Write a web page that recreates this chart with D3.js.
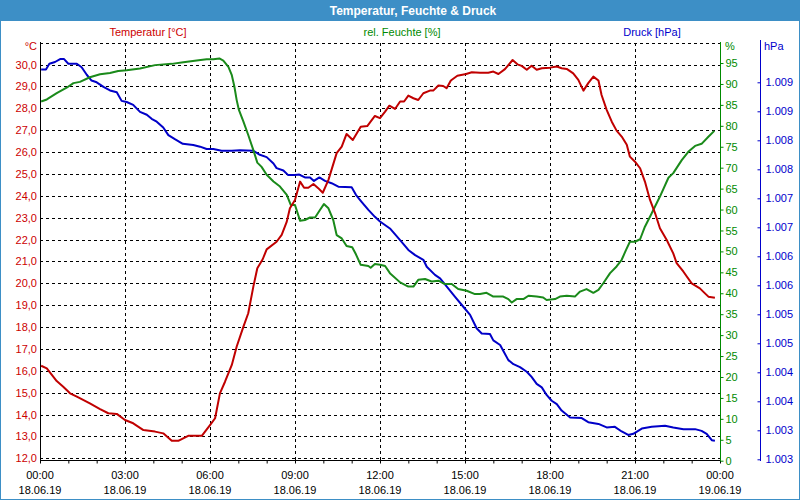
<!DOCTYPE html>
<html><head><meta charset="utf-8">
<script src="https://cdn.jsdelivr.net/npm/d3@7"></script>
<style>body{margin:0;background:#fff}svg{display:block;font-family:"Liberation Sans",Arial,sans-serif}</style>
</head><body><svg id="c" width="800" height="500"></svg>
<script>
const title = "Temperatur, Feuchte & Druck";
const seriesNames = ["Temperatur [°C]", "rel. Feuchte [%]", "Druck [hPa]"];
const timeLabels = ["00:00","03:00","06:00","09:00","12:00","15:00","18:00","21:00","00:00"];
const dateLabels = ["18.06.19","18.06.19","18.06.19","18.06.19","18.06.19","18.06.19","18.06.19","18.06.19","19.06.19"];
const tempTicks = [12,13,14,15,16,17,18,19,20,21,22,23,24,25,26,27,28,29,30,31];
const humTicks = [0,5,10,15,20,25,30,35,40,45,50,55,60,65,70,75,80,85,90,95];
const pressTicks = [1002.75,1003.25,1003.75,1004.25,1004.75,1005.25,1005.75,1006.25,1006.75,1007.25,1007.75,1008.25,1008.75,1009.25];

// hours since 18.06.19 00:00
const tempHours = [0.04,0.24,0.59,0.82,1.06,1.30,1.76,2.12,2.41,2.71,3.0,3.29,3.65,4.06,4.35,4.65,4.88,5.23,5.71,6.0,6.18,6.35,6.53,6.77,6.94,7.18,7.35,7.53,7.67,7.86,8.0,8.35,8.53,8.71,8.82,9.0,9.18,9.32,9.47,9.65,9.82,9.98,10.18,10.47,10.65,10.82,11.04,11.32,11.55,11.82,12.0,12.18,12.33,12.53,12.71,12.85,13.0,13.18,13.35,13.53,13.76,13.88,14.06,14.23,14.35,14.5,14.73,15.04,15.24,15.53,15.82,16.0,16.18,16.41,16.53,16.68,16.85,17.0,17.18,17.35,17.53,17.71,18.0,18.24,18.41,18.59,18.82,19.0,19.18,19.35,19.53,19.71,19.82,20.0,20.18,20.35,20.53,20.71,20.82,21.0,21.18,21.35,21.53,21.71,21.88,22.12,22.35,22.47,22.71,23.0,23.29,23.47,23.59,23.82];
const tempValues = [16.23,16.11,15.53,15.27,14.97,14.82,14.51,14.25,14.06,14.03,13.75,13.60,13.29,13.22,13.14,12.80,12.80,13.03,13.03,13.52,13.83,14.97,15.50,16.27,17.10,18.02,18.63,19.85,20.69,21.10,21.55,21.90,22.21,22.82,23.43,23.81,24.65,24.37,24.37,24.54,24.35,24.14,24.73,25.95,26.25,26.83,26.55,27.16,27.19,27.65,27.55,27.85,28.12,27.97,28.31,28.31,28.58,28.46,28.38,28.69,28.81,28.81,29.04,29.02,28.92,29.27,29.49,29.57,29.65,29.63,29.63,29.68,29.57,29.79,29.98,30.21,30.01,29.94,29.76,29.95,29.76,29.83,29.86,29.91,29.83,29.80,29.60,29.30,28.81,29.15,29.45,29.27,28.61,27.93,27.39,26.98,26.71,26.33,25.79,25.56,25.26,24.65,23.81,23.20,22.52,21.98,21.37,20.92,20.53,20.00,19.77,19.54,19.39,19.34];

const humHours = [0.04,0.24,0.59,0.94,1.18,1.41,1.76,2.12,2.47,2.76,3.06,3.53,4.06,4.65,5.06,5.53,5.88,6.12,6.33,6.47,6.65,6.77,6.86,6.94,7.02,7.18,7.35,7.53,7.67,7.82,8.0,8.24,8.47,8.71,8.85,9.0,9.18,9.35,9.53,9.71,9.88,10.02,10.18,10.35,10.47,10.65,10.82,11.02,11.15,11.32,11.59,11.67,11.82,12.0,12.18,12.35,12.71,13.0,13.18,13.35,13.59,13.82,14.06,14.29,14.53,14.76,15.06,15.35,15.53,15.76,16.0,16.35,16.53,16.65,16.82,17.06,17.24,17.53,17.76,17.88,18.18,18.35,18.59,18.88,19.06,19.29,19.53,19.71,19.88,20.12,20.35,20.53,20.68,20.82,21.0,21.18,21.35,21.59,21.88,22.18,22.35,22.65,22.88,23.12,23.35,23.59,23.80];
const humValues = [85.8,86.3,87.8,89.1,90.2,90.5,91.6,92.3,92.6,93.1,93.3,93.7,94.5,94.8,95.2,95.6,95.9,95.9,96.1,95.6,94.1,92.1,89.4,86.2,83.8,81.0,77.8,74.2,71.2,70.2,68.3,66.7,65.5,63.5,61.1,61.1,57.3,57.5,58.1,58.1,59.9,61.3,60.3,57.5,53.9,53.1,51.3,51.0,49.3,46.8,46.5,46.1,47.0,46.8,46.5,44.8,42.6,41.6,41.6,43.2,43.4,42.8,43.0,42.2,42.2,41.0,40.6,39.8,39.8,40.1,39.2,39.2,38.6,37.8,38.6,38.6,39.4,39.2,39.0,38.4,38.6,39.2,39.4,39.2,40.4,41.0,40.1,40.8,42.4,44.8,46.4,48.0,50.3,52.3,52.3,52.9,55.9,59.1,63.1,67.6,68.7,71.8,73.8,75.2,75.7,77.4,78.8];

const pressHours = [0.04,0.21,0.33,0.53,0.71,0.85,1.0,1.3,1.47,1.65,1.82,2.0,2.24,2.47,2.71,2.88,3.06,3.29,3.53,3.77,3.94,4.12,4.35,4.53,4.76,5.04,5.41,5.65,5.88,6.12,6.41,6.77,7.06,7.53,7.76,8.0,8.24,8.35,8.59,8.76,9.0,9.15,9.35,9.53,9.67,9.86,10.06,10.29,10.53,11.0,11.15,11.35,11.59,11.82,12.0,12.35,12.71,13.0,13.24,13.53,13.65,13.94,14.12,14.35,14.65,14.94,15.18,15.41,15.59,15.88,16.0,16.24,16.35,16.53,16.71,16.94,17.18,17.35,17.53,17.71,17.88,18.06,18.24,18.41,18.71,19.12,19.35,19.71,20.0,20.29,20.53,20.76,20.94,21.24,21.59,22.06,22.35,22.71,23.12,23.35,23.53,23.71,23.82];
const pressValues = [1009.47,1009.47,1009.57,1009.60,1009.65,1009.65,1009.57,1009.57,1009.51,1009.38,1009.28,1009.25,1009.17,1009.11,1009.08,1008.93,1008.91,1008.86,1008.74,1008.69,1008.62,1008.57,1008.47,1008.34,1008.27,1008.19,1008.17,1008.14,1008.10,1008.10,1008.07,1008.07,1008.08,1008.07,1008.00,1007.96,1007.85,1007.77,1007.73,1007.65,1007.65,1007.66,1007.61,1007.61,1007.55,1007.61,1007.55,1007.51,1007.45,1007.44,1007.31,1007.19,1007.05,1006.93,1006.85,1006.73,1006.53,1006.36,1006.27,1006.19,1006.07,1005.93,1005.87,1005.73,1005.55,1005.38,1005.24,1005.01,1004.92,1004.91,1004.80,1004.72,1004.62,1004.46,1004.39,1004.34,1004.26,1004.17,1004.05,1003.99,1003.86,1003.76,1003.70,1003.59,1003.47,1003.46,1003.39,1003.36,1003.30,1003.31,1003.23,1003.17,1003.19,1003.28,1003.31,1003.33,1003.30,1003.27,1003.27,1003.24,1003.19,1003.08,1003.07];

const RED = "#cc0000", GREEN = "#008a00", BLUE = "#0000cc";
const LRED = "#c00000", LGREEN = "#1a8a1a", LBLUE = "#0000c8";
const svg = d3.select("#c");
const de = d3.formatLocale({decimal: ",", thousands: ".", grouping: [3], currency: ["", "€"]});
const fT = de.format(".1f"), fP = de.format(",.0f");

const x = d3.scaleLinear().domain([0, 24]).range([40, 720]);
const yT = d3.scaleLinear().domain([12, 31]).range([458.3, 42.7]);
const yH = d3.scaleLinear().domain([0, 100]).range([460.7, 42.1]);
const yP = d3.scaleLinear().domain([1002.75, 1009.25]).range([459.3, 82.3]);
const px = v => Math.round(v) + 0.5;

// frame + title bar
svg.append("rect").attr("x", 0.5).attr("y", 0.5).attr("width", 799).attr("height", 499)
  .attr("fill", "#fff").attr("stroke", "#3d8fc6").attr("stroke-width", 1);
svg.append("rect").attr("x", 0).attr("y", 0).attr("width", 800).attr("height", 21).attr("fill", "#3d8fc6");
svg.append("text").attr("x", 413).attr("y", 15).attr("text-anchor", "middle")
  .attr("fill", "#fff").attr("font-weight", "bold").attr("font-size", 12).text(title);

// series captions
const capX = [148, 402, 652];
const capC = [RED, GREEN, BLUE];
svg.selectAll("text.cap").data(seriesNames).join("text").attr("class", "cap")
  .attr("x", (d, i) => capX[i]).attr("y", 36).attr("text-anchor", "middle")
  .attr("font-size", 11).attr("fill", (d, i) => capC[i]).text(d => d);

// grid
const grid = svg.append("g").attr("stroke", "#000").attr("stroke-dasharray", "3,3").attr("stroke-width", 1);
grid.selectAll("line.h").data(tempTicks).join("line").attr("class", "h")
  .attr("x1", 40).attr("x2", 720).attr("y1", d => px(yT(d))).attr("y2", d => px(yT(d)));
grid.selectAll("line.v").data(d3.range(3, 24, 3)).join("line").attr("class", "v")
  .attr("x1", d => px(x(d))).attr("x2", d => px(x(d))).attr("y1", 43).attr("y2", 460);

// x axis
const xAxis = d3.axisBottom(x).tickValues(d3.range(0, 25, 1)).tickSize(3).tickFormat("");
const gx = svg.append("g").attr("transform", "translate(0,460.5)").call(xAxis);
gx.select(".domain").attr("stroke", "#000").attr("d", "M40,0H720");
gx.selectAll(".tick line").attr("stroke", "#000");
const xl = svg.append("g").attr("font-size", 11).attr("fill", "#000").attr("text-anchor", "middle");
xl.selectAll("text.t").data(timeLabels).join("text").attr("class", "t")
  .attr("x", (d, i) => x(i * 3)).attr("y", 479).text(d => d);
xl.selectAll("text.d").data(dateLabels).join("text").attr("class", "d")
  .attr("x", (d, i) => x(i * 3)).attr("y", 494).text(d => d);

// left temperature axis
svg.append("line").attr("x1", 40.5).attr("x2", 40.5).attr("y1", 42).attr("y2", 461).attr("stroke", "#000");
const gl = svg.append("g").attr("font-size", 11).attr("fill", RED).attr("text-anchor", "end");
gl.selectAll("text").data(tempTicks.filter(d => d < 31)).join("text")
  .attr("x", 37).attr("y", d => yT(d) + 4).text(d => fT(d));
gl.append("text").attr("x", 37).attr("y", 50).text("°C");

// right humidity axis
const gh = svg.append("g").attr("transform", "translate(720.5,0)")
  .call(d3.axisRight(yH).tickValues(humTicks).tickSize(3).tickPadding(2).tickFormat(d => d));
gh.select(".domain").attr("stroke", GREEN).attr("d", "M0,42V461");
gh.selectAll(".tick line").attr("stroke", GREEN);
gh.selectAll(".tick text").attr("fill", GREEN).attr("font-size", 11).attr("font-family", "Liberation Sans, Arial, sans-serif");
svg.append("text").attr("x", 725).attr("y", 50).attr("font-size", 11).attr("fill", GREEN).text("%");

// right pressure axis
const gp = svg.append("g").attr("transform", "translate(760.5,0)")
  .call(d3.axisLeft(yP).tickValues(pressTicks).tickSize(3).tickFormat(d => fP(d)));
gp.select(".domain").attr("stroke", BLUE).attr("d", "M0,40V461");
gp.selectAll(".tick line").attr("stroke", BLUE);
gp.selectAll(".tick text").attr("fill", BLUE).attr("font-size", 11).attr("text-anchor", "start")
  .attr("x", 5).attr("font-family", "Liberation Sans, Arial, sans-serif");
svg.append("text").attr("x", 764).attr("y", 50).attr("font-size", 11).attr("fill", BLUE).text("hPa");

// lines
function drawLine(hours, vals, ys, color) {
  const pts = hours.map((h, i) => [h, vals[i]]);
  svg.append("path").datum(pts).attr("fill", "none").attr("stroke", color).attr("stroke-width", 2)
    .attr("stroke-linejoin", "round")
    .attr("d", d3.line().x(d => x(d[0])).y(d => ys(d[1])));
}
drawLine(pressHours, pressValues, yP, LBLUE);
drawLine(humHours, humValues, yH, LGREEN);
drawLine(tempHours, tempValues, yT, LRED);
</script></body></html>
